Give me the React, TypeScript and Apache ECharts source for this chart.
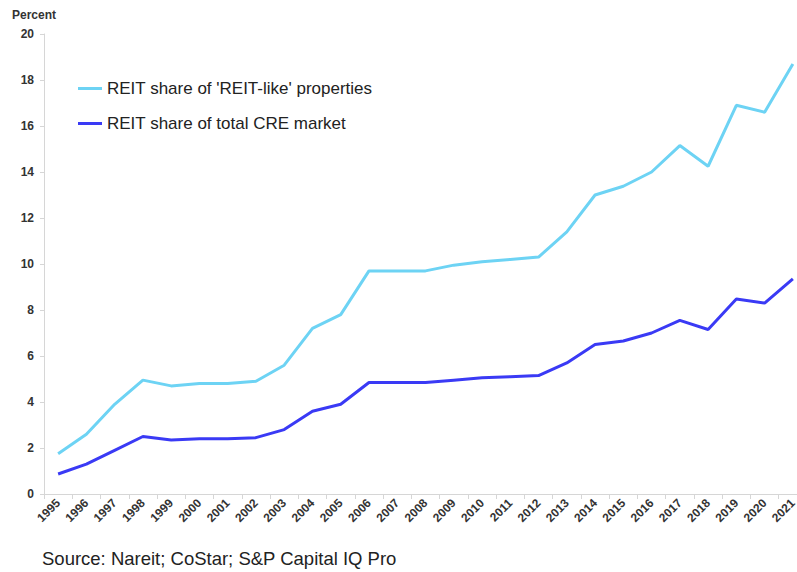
import React, { useEffect, useRef } from "react";
import * as echarts from "echarts";

const years = [
  "1995", "1996", "1997", "1998", "1999", "2000", "2001", "2002", "2003",
  "2004", "2005", "2006", "2007", "2008", "2009", "2010", "2011", "2012",
  "2013", "2014", "2015", "2016", "2017", "2018", "2019", "2020", "2021",
];
const reitLikeShare = [
  1.75, 2.6, 3.9, 4.95, 4.7, 4.8, 4.8, 4.9, 5.6, 7.2, 7.8, 9.7, 9.7, 9.7,
  9.95, 10.1, 10.2, 10.3, 11.4, 13.0, 13.38, 14.0, 15.15, 14.25, 16.9, 16.6, 18.7,
];
const totalCreShare = [
  0.87, 1.3, 1.9, 2.5, 2.35, 2.4, 2.4, 2.45, 2.8, 3.6, 3.9, 4.85, 4.85, 4.85,
  4.95, 5.05, 5.1, 5.15, 5.7, 6.5, 6.65, 7.0, 7.55, 7.15, 8.48, 8.3, 9.35,
];
const seriesNames = ["REIT share of 'REIT-like' properties", "REIT share of total CRE market"];
const yTicks = { min: 0, max: 20, interval: 2 };

export default function App() {
  const ref = useRef<HTMLDivElement>(null);
  useEffect(() => {
    if (!ref.current) return;
    const chart = echarts.init(ref.current, undefined, { renderer: "svg" });
    const font = "Liberation Sans, Arial, sans-serif";
    chart.setOption({
      animation: false,
      textStyle: { fontFamily: font },
      grid: { left: 44, top: 34, width: 763, height: 460, containLabel: false },
      legend: {
        orient: "vertical",
        left: 78,
        top: 80,
        padding: 0,
        icon: "rect",
        itemWidth: 24,
        itemHeight: 3,
        itemGap: 18,
        textStyle: { fontSize: 17, color: "#222", fontFamily: font },
        data: seriesNames,
      },
      xAxis: {
        type: "category",
        data: years,
        boundaryGap: true,
        axisLine: { lineStyle: { color: "#d6d6d6", width: 1 } },
        axisTick: { show: true, length: 5, lineStyle: { color: "#d6d6d6" } },
        axisLabel: {
          rotate: 45,
          fontSize: 12,
          fontWeight: "bold",
          color: "#333",
          margin: 7,
          interval: 0,
          fontFamily: font,
        },
        splitLine: { show: false },
      },
      yAxis: {
        type: "value",
        min: yTicks.min,
        max: yTicks.max,
        interval: yTicks.interval,
        axisLine: { show: true, lineStyle: { color: "#d6d6d6", width: 1 } },
        axisTick: { show: true, length: 4, lineStyle: { color: "#d6d6d6" } },
        axisLabel: { fontSize: 12, fontWeight: "bold", color: "#333", margin: 10, fontFamily: font },
        splitLine: { show: false },
      },
      series: [
        {
          name: seriesNames[0],
          type: "line",
          data: reitLikeShare,
          showSymbol: false,
          symbol: "none",
          lineStyle: { color: "#6dd3f4", width: 3 },
          itemStyle: { color: "#6dd3f4" },
        },
        {
          name: seriesNames[1],
          type: "line",
          data: totalCreShare,
          showSymbol: false,
          symbol: "none",
          lineStyle: { color: "#3a3af5", width: 3 },
          itemStyle: { color: "#3a3af5" },
        },
      ],
      graphic: [
        {
          type: "text",
          left: 12,
          top: 9,
          style: { text: "Percent", fontSize: 12, fontWeight: "bold", fill: "#333", fontFamily: font },
        },
        {
          type: "text",
          left: 42,
          top: 549,
          style: { text: "Source: Nareit; CoStar; S&P Capital IQ Pro", fontSize: 18.5, fill: "#222", fontFamily: font },
        },
      ],
    });
    return () => chart.dispose();
  }, []);
  return (
    <div
      style={{
        position: "fixed",
        left: 0,
        top: 0,
        width: 797,
        height: 572,
        overflow: "hidden",
        background: "#fff",
      }}
    >
      <div ref={ref} style={{ position: "absolute", left: 0, top: 0, width: 820, height: 572 }} />
    </div>
  );
}
